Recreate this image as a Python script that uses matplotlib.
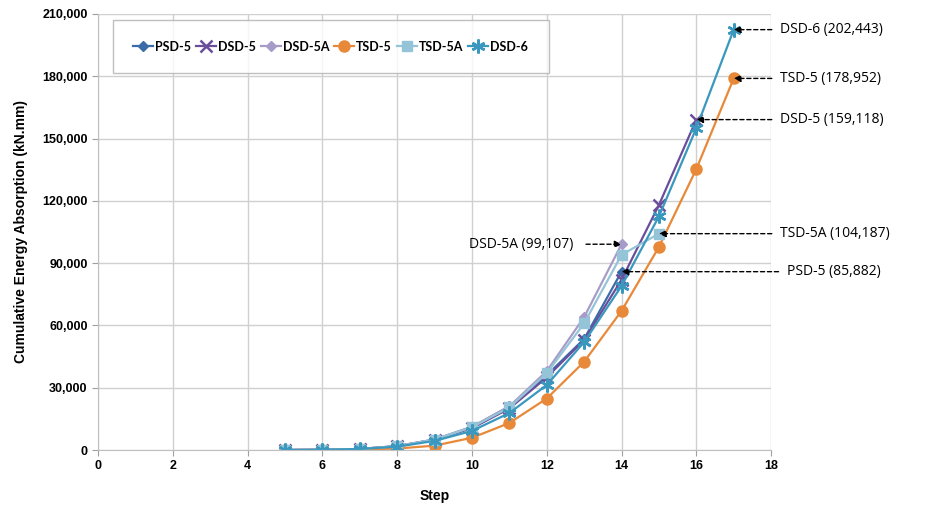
import matplotlib
matplotlib.use("Agg")
import matplotlib.pyplot as plt
from matplotlib.ticker import FuncFormatter, MultipleLocator

# cumulative energy absorption (kN.mm) per loading step
psd5_steps = [5, 6, 7, 8, 9, 10, 11, 12, 13, 14]
psd5 = [0, 100, 500, 1900, 5000, 11000, 21000, 36000, 53500, 85882]

dsd5_steps = [5, 6, 7, 8, 9, 10, 11, 12, 13, 14, 15, 16]
dsd5 = [0, 100, 500, 1800, 4900, 10500, 20000, 35000, 53000, 82000, 118000, 159118]

dsd5a_steps = [5, 6, 7, 8, 9, 10, 11, 12, 13, 14]
dsd5a = [0, 100, 500, 1900, 5100, 11200, 21000, 38000, 64000, 99107]

tsd5_steps = [5, 6, 7, 8, 9, 10, 11, 12, 13, 14, 15, 16, 17]
tsd5 = [0, 50, 300, 700, 2100, 5900, 13000, 24800, 42500, 67000, 97800, 135300, 178952]

tsd5a_steps = [5, 6, 7, 8, 9, 10, 11, 12, 13, 14, 15]
tsd5a = [0, 100, 500, 1800, 5000, 11000, 20500, 37000, 61000, 94000, 104187]

dsd6_steps = [5, 6, 7, 8, 9, 10, 11, 12, 13, 14, 15, 16, 17]
dsd6 = [0, 100, 500, 1600, 4400, 9200, 17800, 31300, 52000, 79000, 112500, 155000, 202443]

series = [
    ("PSD-5", psd5_steps, psd5, "#3C6CA8", "D", 5),
    ("DSD-5", dsd5_steps, dsd5, "#6A4E9C", "x", 8),
    ("DSD-5A", dsd5a_steps, dsd5a, "#A79CC8", "D", 5),
    ("TSD-5", tsd5_steps, tsd5, "#E8893A", "o", 8),
    ("TSD-5A", tsd5a_steps, tsd5a, "#95C4D8", "s", 7),
    ("DSD-6", dsd6_steps, dsd6, "#3A98BE", (6, 2, 0), 10),
]

# labelled end points: (text, x, y, text x in axes fraction)
labels = [
    ("DSD-6 (202,443)", 17, 202443, 1.013),
    ("TSD-5 (178,952)", 17, 178952, 1.013),
    ("DSD-5 (159,118)", 16, 159118, 1.013),
    ("TSD-5A (104,187)", 15, 104187, 1.013),
    ("PSD-5 (85,882)", 14, 85882, 1.023),
]

fig = plt.figure(figsize=(9.52, 5.13), dpi=100)
ax = fig.add_axes([0.103, 0.1228, 0.707, 0.85])

for name, xs, ys, col, mk, ms in series:
    thick = mk == "x" or isinstance(mk, tuple)
    ax.plot(xs, ys, color=col, lw=1.6, marker=mk, ms=ms, mew=1.8 if thick else 1, label=name)

ax.set_xlim(0, 18)
ax.set_ylim(0, 210000)
ax.xaxis.set_major_locator(MultipleLocator(2))
ax.yaxis.set_major_locator(MultipleLocator(30000))
ax.yaxis.set_major_formatter(FuncFormatter(lambda v, p: f"{int(v):,}"))
ax.grid(True, color="#d0d0d0", lw=1)
ax.set_axisbelow(True)
for s in ax.spines.values():
    s.set_color("#c0c0c0")
ax.spines["top"].set_visible(False)
ax.spines["right"].set_visible(False)
ax.tick_params(colors="#a0a0a0", length=4, labelcolor="black")
for t in ax.get_xticklabels() + ax.get_yticklabels():
    t.set_fontfamily("Liberation Sans")
    t.set_fontweight("bold")
    t.set_fontsize(9)

ax.set_xlabel("Step", fontsize=10, fontweight="bold", family="Liberation Sans", labelpad=12)
ax.set_ylabel("Cumulative Energy Absorption (kN.mm)", fontsize=10, fontweight="bold",
              family="Liberation Sans", labelpad=10)

leg = ax.legend(loc="upper left", ncol=6, bbox_to_anchor=(0.022, 0.986), borderaxespad=0,
                frameon=True, fancybox=False, edgecolor="#b0b0b0", handlelength=1.6,
                handletextpad=0.15, columnspacing=0.4, borderpad=1.65,
                prop={"family": "Lato", "weight": "bold", "size": 9})

arrow = dict(arrowstyle="-|>", linestyle=(0, (3, 2)), color="black", lw=1, mutation_scale=10,
             shrinkA=0, shrinkB=0)
for text, x, y, tx in labels:
    ax.annotate("", xy=(x, y), xycoords="data", xytext=(tx - 0.012, y),
                textcoords=("axes fraction", "data"), arrowprops=arrow, annotation_clip=False)
    ax.annotate(text, xy=(tx, y), xycoords=("axes fraction", "data"), ha="left", va="center",
                fontsize=10, family="Open Sans", annotation_clip=False)

ax.annotate("DSD-5A (99,107)", xy=(14, 99107), xytext=(12.7, 99107), ha="right", va="center",
            fontsize=10, family="Open Sans")
ax.annotate("", xy=(14, 99107), xytext=(13.05, 99107), arrowprops=arrow)

fig.savefig("out.png", dpi=100)
